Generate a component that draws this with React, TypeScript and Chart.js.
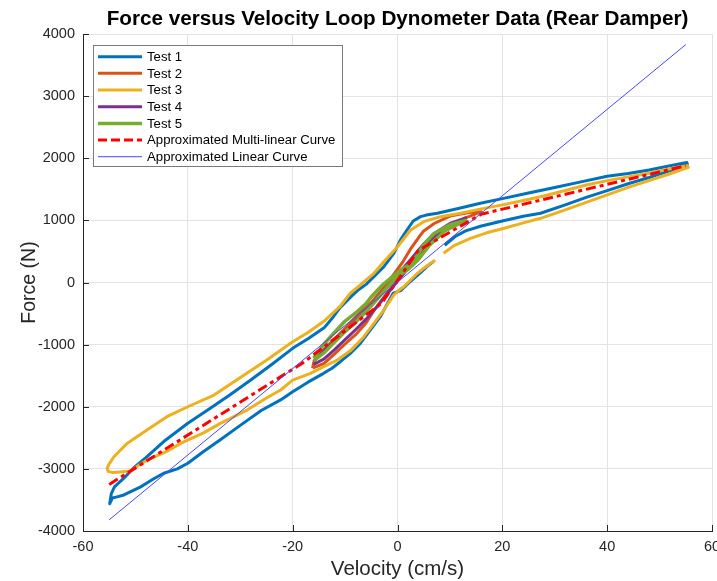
import React, { useEffect, useRef } from "react";
import { Chart, registerables } from "chart.js";

Chart.register(...registerables);

const xTicks = [-60, -40, -20, 0, 20, 40, 60];
const xTickLabels = ["-60", "-40", "-20", "0", "20", "40", "60"];
const yTicks = [-4000, -3000, -2000, -1000, 0, 1000, 2000, 3000, 4000];
const yTickLabels = ["-4000", "-3000", "-2000", "-1000", "0", "1000", "2000", "3000", "4000"];

const seriesNames = [
  "Test 1",
  "Test 2",
  "Test 3",
  "Test 4",
  "Test 5",
  "Approximated Multi-linear Curve",
  "Approximated Linear Curve",
];

// Test 1 (blue big loop)
const test1Velocity = [
  9, 11, 13, 16, 20, 24, 27.3, 32, 36, 40, 44, 48, 52, 54, 55.3,
  55.2, 52, 48, 44, 40, 35, 30, 25, 20, 15.8, 12, 7.6, 5.5, 4.4, 3, 1.8, 0.6, -0.7, -2.6, -4.5, -6, -7.5, -9, -11, -12.5, -14, -17, -20, -24, -28, -32, -36, -40, -44.6, -48, -50.3, -52.2, -54, -54.6, -54.9,
  -54.4, -53.5, -52.2, -50.5, -49, -46.5, -44.6, -42, -40, -37, -33.8, -30, -26, -22.3, -20, -17, -14.1, -12.5, -10.9, -9, -7.1, -5.2, -3.2, -1.8, -0.8, 0.6, 1.5, 2.5, 4.4, 5.8, 6.9,
];
const test1Force = [
  600, 740, 830, 910, 990, 1065, 1114, 1250, 1370, 1480, 1590, 1690, 1800, 1860, 1905,
  1930, 1880, 1810, 1755, 1710, 1620, 1530, 1440, 1350, 1275, 1200, 1114, 1085, 1060, 990, 845, 690, 470, 254, 93, -30, -120, -240, -410, -580, -730, -900, -1060, -1320, -1570, -1810, -2040, -2265, -2560, -2820, -2980, -3150, -3290, -3400, -3560,
  -3470, -3450, -3420, -3350, -3290, -3160, -3070, -3000, -2910, -2720, -2530, -2300, -2060, -1890, -1758, -1600, -1462, -1380, -1275, -1140, -980, -765, -540, -320, -170, -130, -60, 20, 160, 270, 340,
];

// Test 2 (orange small loop)
const test2Velocity = [
  -16.2, -14, -12, -10, -8, -6, -4.5, -3, -1, 1, 3, 5, 7, 9, 11, 13, 16,
  13.9, 10, 7, 5, 4, 2.5, 1, -1, -3, -5, -7, -9, -11, -13, -15, -16, -16.2,
];
const test2Force = [
  -1380, -1300, -1150, -990, -840, -650, -450, -280, -60, 160, 360, 560, 740, 860, 950, 1040, 1140,
  1130, 1070, 950, 830, 720, 540, 330, 100, -120, -320, -470, -650, -820, -990, -1160, -1290, -1380,
];

// Test 3 (yellow big loop)
const test3Velocity = [
  8.8, 10.7, 13.9, 17, 20.2, 24, 27.3, 32, 36, 40, 44, 48, 52, 54, 55.5,
  55.3, 52, 48, 44, 40, 36, 32, 27.3, 24, 20, 16, 12, 8.2, 5, 2.5, 0, -2.6, -4.5, -7.1, -9, -11, -14, -17, -20, -25, -31.2, -35, -40, -44, -47.8, -51.6, -54.1, -55, -55.4,
  -55.2, -54.3, -53, -51, -49.5, -47.8, -44, -41.4, -37, -33.8, -28.7, -25, -22.3, -20, -16.6, -14.1, -11.5, -9, -6.5, -4.5, -2.6, -0.7, 0.5, 1.2, 2.5, 3.8, 5, 6.3, 7.2,
];
const test3Force = [
  470, 590, 710, 800, 870, 960, 1033, 1170, 1290, 1410, 1530, 1640, 1750, 1810, 1855,
  1880, 1830, 1760, 1700, 1640, 1570, 1480, 1380, 1320, 1250, 1185, 1114, 1060, 979, 845, 576, 335, 148, -40, -170, -390, -620, -800, -953, -1250, -1597, -1812, -2000, -2160, -2375, -2590, -2805, -2920, -2990,
  -3040, -3060, -3050, -3035, -2950, -2860, -2720, -2590, -2420, -2267, -2053, -1860, -1730, -1570, -1462, -1356, -1248, -1100, -880, -657, -443, -200, -110, -67, 40, 148, 230, 309, 360,
];

// Test 4 (purple small loop)
const test4Velocity = [
  -16, -14, -12, -10, -8, -6, -4, -2, 0, 2, 4, 6, 9, 13,
  10, 7, 5, 3, 1, -1, -3, -5, -7, -9, -11, -13, -15, -16,
];
const test4Force = [
  -1320, -1230, -1080, -920, -760, -590, -400, -190, 20, 230, 450, 650, 850, 1040,
  950, 790, 620, 420, 220, 20, -170, -370, -540, -700, -860, -1020, -1170, -1270,
];

// Test 5 (green small loop)
const test5Velocity = [
  -16, -14, -12, -10, -8, -6, -4, -2, 0, 2, 4, 6, 9, 13,
  10, 7, 5, 3.8, 2.5, 0.6, -1.3, -3, -5, -6, -8, -10, -12, -14, -16,
];
const test5Force = [
  -1260, -1130, -960, -790, -640, -470, -280, -80, 100, 210, 370, 590, 830, 1000,
  930, 790, 610, 440, 300, 200, 70, -50, -230, -340, -490, -620, -800, -990, -1220,
];

// Approximated curves
const multiLinearVelocity = [-55, -18, -3, 4, 16, 55];
const multiLinearForce = [-3250, -1290, -330, 520, 1100, 1880];
const linearVelocity = [-55, 55];
const linearForce = [-3820, 3830];

const seriesColors = ["#0072BD", "#D95319", "#EDB120", "#7E2F8E", "#77AC30", "#FF0000", "#4646FF"];
const seriesWidths = [3, 3, 3, 3, 3.5, 3, 1];
const redDash = [10, 4, 4, 4];

const FONT = "'Liberation Sans', Arial, Helvetica, sans-serif";

const toPoints = (xs: number[], ys: number[]) => xs.map((x, i) => ({ x, y: ys[i] }));

const decorPlugin = {
  id: "decor",
  afterDraw(chart: any) {
    const ctx: CanvasRenderingContext2D = chart.ctx;
    const { left, right, top, bottom } = chart.chartArea;
    const xs = chart.scales.x;
    const ys = chart.scales.y;
    ctx.save();

    // inward tick marks
    ctx.strokeStyle = "#262626";
    ctx.lineWidth = 1;
    ctx.beginPath();
    for (const v of xTicks) {
      const px = Math.round(xs.getPixelForValue(v)) + 0.5;
      ctx.moveTo(px, bottom);
      ctx.lineTo(px, bottom - 6);
    }
    for (const v of yTicks) {
      const py = Math.round(ys.getPixelForValue(v)) + 0.5;
      ctx.moveTo(left, py);
      ctx.lineTo(left + 6, py);
    }
    ctx.stroke();

    // title
    ctx.fillStyle = "#000";
    ctx.textAlign = "center";
    ctx.textBaseline = "alphabetic";
    ctx.font = `bold 20.7px ${FONT}`;
    ctx.fillText("Force versus Velocity Loop Dynometer Data (Rear Damper)", (left + right) / 2, 25);

    // axis labels
    ctx.fillStyle = "#262626";
    ctx.font = `20.5px ${FONT}`;
    ctx.fillText("Velocity (cm/s)", (left + right) / 2, 575);
    ctx.save();
    ctx.font = `19.5px ${FONT}`;
    ctx.translate(35, (top + bottom) / 2);
    ctx.rotate(-Math.PI / 2);
    ctx.fillText("Force (N)", 0, 0);
    ctx.restore();

    // legend
    const bx = 93.5, by = 45.5, bw = 249, bh = 121;
    ctx.fillStyle = "#fff";
    ctx.fillRect(bx, by, bw, bh);
    ctx.strokeStyle = "#7a7a7a";
    ctx.lineWidth = 1;
    ctx.strokeRect(bx, by, bw, bh);
    ctx.font = `13.2px ${FONT}`;
    ctx.textAlign = "left";
    ctx.textBaseline = "middle";
    seriesNames.forEach((name, i) => {
      const cy = 56.7 + i * 16.67;
      ctx.beginPath();
      ctx.strokeStyle = seriesColors[i];
      ctx.lineWidth = seriesWidths[i];
      ctx.setLineDash(i === 5 ? [9, 4] : []);
      ctx.moveTo(98, cy);
      ctx.lineTo(142, cy);
      ctx.stroke();
      ctx.setLineDash([]);
      ctx.fillStyle = "#000";
      ctx.fillText(name, 147, cy + 0.5);
    });
    ctx.restore();
  },
};

export default function App() {
  const ref = useRef<HTMLCanvasElement>(null);
  useEffect(() => {
    const seriesData = [
      toPoints(test1Velocity, test1Force),
      toPoints(test2Velocity, test2Force),
      toPoints(test3Velocity, test3Force),
      toPoints(test4Velocity, test4Force),
      toPoints(test5Velocity, test5Force),
      toPoints(multiLinearVelocity, multiLinearForce),
      toPoints(linearVelocity, linearForce),
    ];
    const datasets = seriesData.map((d, i) => ({
      label: seriesNames[i],
      data: d,
      showLine: true,
      borderColor: seriesColors[i],
      backgroundColor: seriesColors[i],
      borderWidth: seriesWidths[i],
      borderDash: i === 5 ? redDash : [],
      pointRadius: 0,
      pointHoverRadius: 0,
      tension: 0,
      fill: false,
      borderJoinStyle: "round" as const,
      order: 10 - i,
    }));
    const tickFont = { family: FONT, size: 14.5 };
    const chart = new Chart(ref.current!, {
      type: "scatter",
      data: { datasets },
      options: {
        animation: false,
        responsive: false,
        maintainAspectRatio: false,
        devicePixelRatio: 1,
        layout: { padding: { top: 34, right: 5, left: 0, bottom: 0 } },
        plugins: {
          legend: { display: false },
          title: { display: false },
          tooltip: { enabled: false },
        },
        scales: {
          x: {
            type: "linear",
            min: -60,
            max: 60,
            afterBuildTicks: (s: any) => {
              s.ticks = xTicks.map((v) => ({ value: v }));
            },
            afterFit: (s: any) => {
              s.height = 50;
              s.paddingLeft = 0;
              s.paddingRight = 0;
            },
            ticks: {
              callback: (_v: any, i: number) => xTickLabels[i],
              font: tickFont,
              color: "#262626",
              padding: 7,
              maxRotation: 0,
              autoSkip: false,
            },
            grid: { color: "#e3e3e3", drawTicks: false },
            border: { display: true, color: "#262626" },
          },
          y: {
            type: "linear",
            min: -4000,
            max: 4000,
            afterBuildTicks: (s: any) => {
              s.ticks = yTicks.map((v) => ({ value: v }));
            },
            afterFit: (s: any) => {
              s.width = 83;
              s.paddingTop = 0;
              s.paddingBottom = 0;
            },
            ticks: {
              callback: (_v: any, i: number) => yTickLabels[i],
              font: tickFont,
              color: "#262626",
              padding: 8,
              autoSkip: false,
            },
            grid: { color: "#e3e3e3", drawTicks: false },
            border: { display: true, color: "#262626" },
          },
        },
      } as any,
      plugins: [decorPlugin],
    });
    return () => chart.destroy();
  }, []);
  return (
    <div style={{ position: "absolute", left: 0, top: 0, width: 717, height: 581, background: "#fff" }}>
      <canvas ref={ref} width={717} height={581} style={{ display: "block", width: 717, height: 581 }} />
    </div>
  );
}
